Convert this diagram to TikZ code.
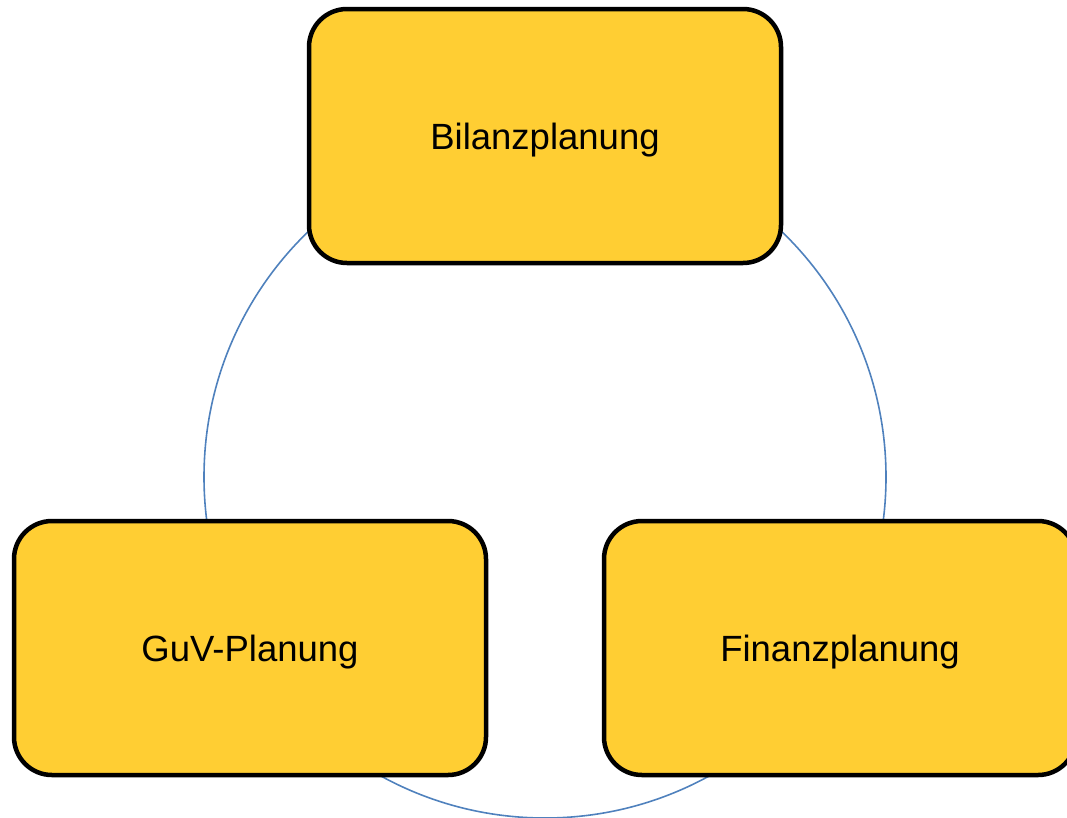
\documentclass[tikz,border=0pt]{standalone}
\usepackage{fontspec}
\setmainfont{Liberation Sans}
\definecolor{boxfill}{HTML}{FFCE33}
\definecolor{ringblue}{HTML}{4F81BD}
\begin{document}
\begin{tikzpicture}[x=1pt,y=-1pt,
  planbox/.style={draw=black, line width=4.5pt, fill=boxfill, rounded corners=38pt,
    minimum width=472pt, minimum height=254pt, inner sep=0pt,
    text height=29pt, text depth=2pt,
    font=\fontsize{36.5}{44}\selectfont},
  ring/.style={draw=ringblue, line width=1.6pt}]
  \useasboundingbox (0,0) rectangle (1067,817);
  \clip (0,0) rectangle (1067,817);
  % cycle behind the three planning blocks
  \draw[ring] (545,477) circle[radius=341];
  \node[planbox] (bilanz) at (545,136) {Bilanzplanung};
  \node[planbox] (guv) at (250,648) {GuV-Planung};
  \node[planbox] (finanz) at (840,648) {Finanzplanung};
\end{tikzpicture}
\end{document}
